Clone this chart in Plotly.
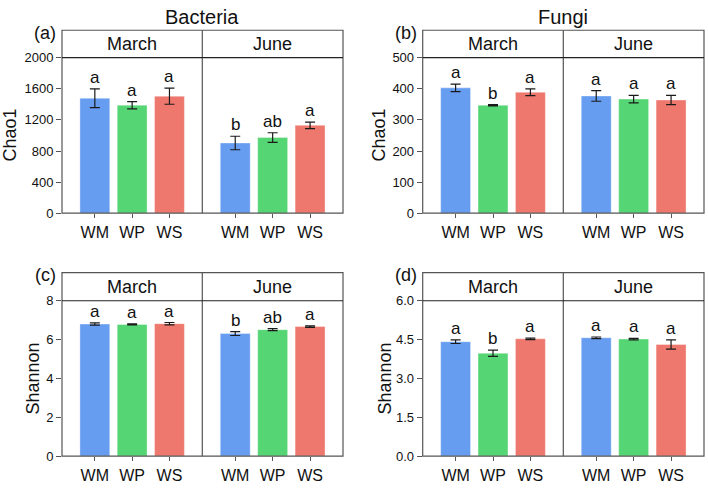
import plotly.graph_objects as go

W, H = 708, 491

treatments = ["WM", "WP", "WS"]
months = ["March", "June"]
colors = ["#679DF0", "#55D573", "#EE786E"]

# Panel (a) Bacteria Chao1
bac_chao_march = [1478, 1389, 1505]
bac_chao_march_err = [120, 46, 104]
bac_chao_june = [903, 973, 1130]
bac_chao_june_err = [87, 62, 42]
bac_chao_letters_march = ["a", "a", "a"]
bac_chao_letters_june = ["b", "ab", "a"]

# Panel (b) Fungi Chao1
fun_chao_march = [403, 347, 389]
fun_chao_march_err = [12, 2, 11]
fun_chao_june = [377, 367, 364]
fun_chao_june_err = [17, 12, 15]
fun_chao_letters_march = ["a", "b", "a"]
fun_chao_letters_june = ["a", "a", "a"]

# Panel (c) Bacteria Shannon
bac_sh_march = [6.80, 6.78, 6.82]
bac_sh_march_err = [0.06, 0.03, 0.06]
bac_sh_june = [6.31, 6.51, 6.67]
bac_sh_june_err = [0.10, 0.05, 0.04]
bac_sh_letters_march = ["a", "a", "a"]
bac_sh_letters_june = ["b", "ab", "a"]

# Panel (d) Fungi Shannon
fun_sh_march = [4.42, 3.97, 4.53]
fun_sh_march_err = [0.07, 0.12, 0.03]
fun_sh_june = [4.57, 4.52, 4.31]
fun_sh_june_err = [0.03, 0.03, 0.18]
fun_sh_letters_march = ["a", "b", "a"]
fun_sh_letters_june = ["a", "a", "a"]

yticks_chao_bac = [0, 400, 800, 1200, 1600, 2000]
yticks_chao_fun = [0, 100, 200, 300, 400, 500]
yticks_sh_bac = [0, 2, 4, 6, 8]
yticks_sh_fun = [0, 1.5, 3.0, 4.5, 6.0]
yticktext_sh_fun = ["0.0", "1.5", "3.0", "4.5", "6.0"]

panels = [
    dict(tag="(a)", title="Bacteria", ylabel="Chao1",
         data=[(bac_chao_march, bac_chao_march_err, bac_chao_letters_march),
               (bac_chao_june, bac_chao_june_err, bac_chao_letters_june)],
         yt=yticks_chao_bac, ytt=[str(v) for v in yticks_chao_bac],
         px=(62, 202.3, 343), strip=(24, 52.3), plot=(52.3, 212.7), ylx=10),
    dict(tag="(b)", title="Fungi", ylabel="Chao1",
         data=[(fun_chao_march, fun_chao_march_err, fun_chao_letters_march),
               (fun_chao_june, fun_chao_june_err, fun_chao_letters_june)],
         yt=yticks_chao_fun, ytt=[str(v) for v in yticks_chao_fun],
         px=(422.7, 563.3, 704), strip=(24, 52.3), plot=(52.3, 212.7), ylx=379),
    dict(tag="(c)", title=None, ylabel="Shannon",
         data=[(bac_sh_march, bac_sh_march_err, bac_sh_letters_march),
               (bac_sh_june, bac_sh_june_err, bac_sh_letters_june)],
         yt=yticks_sh_bac, ytt=[str(v) for v in yticks_sh_bac],
         px=(62, 202.3, 343), strip=(274, 303), plot=(303, 463.3), ylx=33),
    dict(tag="(d)", title=None, ylabel="Shannon",
         data=[(fun_sh_march, fun_sh_march_err, fun_sh_letters_march),
               (fun_sh_june, fun_sh_june_err, fun_sh_letters_june)],
         yt=yticks_sh_fun, ytt=yticktext_sh_fun,
         px=(422.7, 563.3, 704), strip=(274, 303), plot=(303, 463.3), ylx=385),
]


def fx(p):
    return p / W


def fy(p):
    return 1 - p / H


FONT = "Liberation Sans, Arial, sans-serif"
fig = go.Figure()
layout = dict(width=W, height=H, margin=dict(l=0, r=0, t=0, b=0),
              paper_bgcolor="white", plot_bgcolor="white", showlegend=False,
              font=dict(family=FONT, color="#111"), bargap=0.2)
annotations = []
shapes = []
k = 0
frame_col = "#555555"
for p in panels:
    x0, xm, x1 = p["px"]
    s0, s1 = p["strip"]
    p0, p1 = p["plot"]
    yr = [p["yt"][0], p["yt"][-1]]
    for f in range(2):
        k += 1
        vals, errs, letters = p["data"][f]
        xa = "x" if k == 1 else f"x{k}"
        ya = "y" if k == 1 else f"y{k}"
        fig.add_trace(go.Bar(
            x=treatments, y=vals, width=0.8,
            marker=dict(color=colors, line=dict(color="rgba(255,255,255,0.35)", width=1)),
            error_y=dict(type="data", array=errs, color="#1a1a1a", thickness=1.2, width=5),
            xaxis=xa, yaxis=ya, hoverinfo="skip"))
        dom_x = [fx(x0), fx(xm)] if f == 0 else [fx(xm), fx(x1)]
        layout["xaxis" + ("" if k == 1 else str(k))] = dict(
            domain=dom_x, anchor=ya, type="category", categoryorder="array",
            categoryarray=treatments, range=[-0.88, 2.88], ticks="outside", ticklen=4,
            tickcolor=frame_col, tickfont=dict(size=16, family=FONT, color="#111"),
            showgrid=False, zeroline=False, showline=False, fixedrange=True,
            ticklabelstandoff=1)
        yax = dict(domain=[fy(p1), fy(p0)], anchor=xa, range=yr, showgrid=False,
                   zeroline=False, showline=False, fixedrange=True)
        if f == 0:
            yax.update(tickvals=p["yt"], ticktext=p["ytt"], ticks="outside", ticklen=5,
                       tickcolor=frame_col, tickfont=dict(size=13, family=FONT, color="#111"))
        else:
            yax.update(showticklabels=False, ticks="")
        layout["yaxis" + ("" if k == 1 else str(k))] = yax
        for t, v, e, L in zip(treatments, vals, errs, letters):
            annotations.append(dict(x=t, y=v + e, xref=xa, yref=ya, text=L, showarrow=False,
                                    yanchor="bottom", yshift=0,
                                    font=dict(size=17, family=FONT, color="#111")))
        # strip text
        cx = (x0 + xm) / 2 if f == 0 else (xm + x1) / 2
        annotations.append(dict(x=fx(cx), y=fy((s0 + s1) / 2), xref="paper", yref="paper",
                                text=months[f], showarrow=False, xanchor="center", yanchor="middle",
                                font=dict(size=18, family=FONT, color="#111")))
    # frame
    shapes.append(dict(type="rect", xref="paper", yref="paper", x0=fx(x0), x1=fx(x1),
                       y0=fy(p1), y1=fy(s0), line=dict(color=frame_col, width=1.2)))
    shapes.append(dict(type="line", xref="paper", yref="paper", x0=fx(xm), x1=fx(xm),
                       y0=fy(p1), y1=fy(s0), line=dict(color=frame_col, width=1.2)))
    shapes.append(dict(type="line", xref="paper", yref="paper", x0=fx(x0), x1=fx(x1),
                       y0=fy(s1), y1=fy(s1), line=dict(color="#222", width=1.2)))
    # tag
    annotations.append(dict(x=fx(x0 - 17), y=fy(s0 + 2.5), xref="paper", yref="paper",
                            text=p["tag"], showarrow=False, xanchor="center", yanchor="middle",
                            font=dict(size=18, family=FONT, color="#111")))
    if p["title"]:
        annotations.append(dict(x=fx(xm), y=fy(10), xref="paper", yref="paper",
                                text=p["title"], showarrow=False, xanchor="center", yanchor="middle",
                                font=dict(size=20, family=FONT, color="#111")))
    annotations.append(dict(x=fx(p["ylx"]), y=fy((p0 + p1) / 2), xref="paper", yref="paper",
                            text=p["ylabel"], showarrow=False, textangle=-90,
                            xanchor="center", yanchor="middle",
                            font=dict(size=18, family=FONT, color="#111")))

layout["annotations"] = annotations
layout["shapes"] = shapes
fig.update_layout(**layout)
fig.write_html("out.html")
